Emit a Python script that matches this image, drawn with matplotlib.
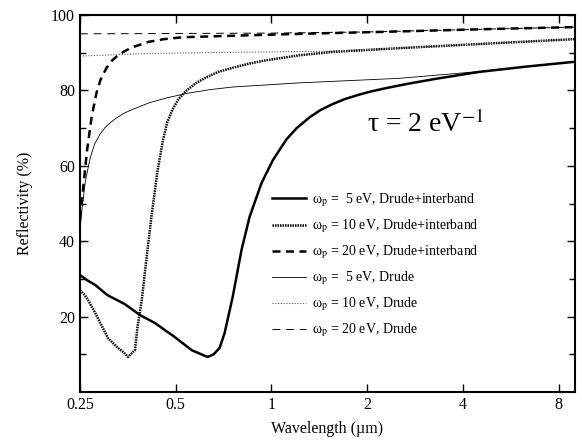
import matplotlib
matplotlib.use('Agg')
import matplotlib.pyplot as plt
from matplotlib.ticker import FixedLocator, NullLocator

plt.rcParams['font.family'] = ['Liberation Serif', 'DejaVu Serif']
plt.rcParams['mathtext.fontset'] = 'stix'

# wavelength (um) and reflectivity (%)
# wp = 5 eV, Drude+interband
lam_5i = [0.25, 0.265, 0.279, 0.305, 0.346, 0.386, 0.430, 0.496, 0.561, 0.617,
          0.630, 0.658, 0.687, 0.712, 0.755, 0.805, 0.853, 0.93, 1.01, 1.114,
          1.2, 1.32, 1.42, 1.55, 1.7, 1.89, 2.05, 2.29, 2.7, 3.3, 4.49, 6.3, 9.0]
r_5i = [31.0, 29.5, 28.4, 25.7, 23.3, 20.4, 18.3, 14.6, 11.1, 9.6,
        9.3, 10.0, 11.7, 15.6, 25.2, 37.7, 46.4, 55.4, 61.5, 67.0,
        70.0, 72.9, 74.7, 76.3, 77.7, 78.9, 79.7, 80.6, 81.8, 83.1, 84.9, 86.3, 87.6]

# wp = 10 eV, Drude+interband
lam_10i = [0.25, 0.257, 0.265, 0.279, 0.294, 0.306, 0.329, 0.343, 0.354, 0.364,
           0.372, 0.379, 0.391, 0.405, 0.420, 0.437, 0.455, 0.47, 0.489, 0.51,
           0.541, 0.58, 0.625, 0.68, 0.755, 0.85, 0.963, 1.22, 1.55, 2.52, 4.49, 9.0]
r_10i = [27.0, 26.0, 24.4, 21.0, 17.2, 14.3, 11.7, 10.5, 9.3, 10.3,
         11.1, 17.2, 24.4, 35.8, 47.0, 58.0, 66.5, 71.5, 75.0, 77.7,
         80.0, 82.0, 83.5, 84.9, 86.0, 87.1, 88.0, 89.3, 90.2, 91.2, 92.3, 93.6]

# wp = 20 eV, Drude+interband
lam_20i = [0.25, 0.2555, 0.263, 0.272, 0.282, 0.29, 0.303, 0.315, 0.327, 0.345,
           0.367, 0.412, 0.46, 0.526, 0.755, 1.224, 2.18, 4.49, 9.0]
r_20i = [46.0, 53.6, 64.0, 73.0, 79.5, 82.8, 86.0, 87.9, 89.1, 90.4,
         91.5, 92.9, 93.6, 94.1, 94.5, 95.0, 95.5, 96.2, 96.8]

# wp = 5 eV, Drude
lam_5d = [0.25, 0.254, 0.26, 0.269, 0.278, 0.289, 0.30, 0.313, 0.327, 0.345,
          0.367, 0.412, 0.468, 0.541, 0.64, 0.755, 1.224, 2.52, 4.49, 9.0]
r_5d = [43.0, 49.0, 56.0, 62.0, 65.8, 68.4, 70.2, 71.6, 72.8, 74.0,
        75.0, 76.7, 78.0, 79.2, 80.2, 80.9, 82.0, 83.2, 85.0, 87.6]

# wp = 10 eV, Drude
lam_10d = [0.25, 0.41, 0.755, 1.22, 1.55, 2.52, 4.49, 9.0]
r_10d = [89.1, 89.8, 90.1, 90.3, 90.4, 91.2, 92.3, 93.6]

# wp = 20 eV, Drude
lam_20d = [0.25, 1.0, 2.0, 4.49, 9.0]
r_20d = [95.0, 95.2, 95.5, 96.2, 96.8]

xticks = [0.25, 0.5, 1, 2, 4, 8]
xticklabels = ['0.25', '0.5', '1', '2', '4', '8']

fig = plt.figure(figsize=(5.82, 4.45), dpi=100)
ax = fig.add_axes([80 / 582, 1 - 392 / 445, 495 / 582, 377 / 445])

ax.plot(lam_5i, r_5i, color='black', lw=1.8, ls='-',
        label='\u03c9$_{\\rm p}$ =  5 eV, Drude+interband')
ax.plot(lam_10i, r_10i, color='black', lw=1.8, ls=(0, (0.6, 0.4)),
        label='\u03c9$_{\\rm p}$ = 10 eV, Drude+interband')
ax.plot(lam_20i, r_20i, color='black', lw=1.8, ls=(0, (3.2, 2.2)),
        label='\u03c9$_{\\rm p}$ = 20 eV, Drude+interband')
ax.plot(lam_5d, r_5d, color='black', lw=0.6, ls='-',
        label='\u03c9$_{\\rm p}$ =  5 eV, Drude')
ax.plot(lam_10d, r_10d, color='#555555', lw=0.8, ls=(0, (1, 1.5)),
        label='\u03c9$_{\\rm p}$ = 10 eV, Drude')
ax.plot(lam_20d, r_20d, color='black', lw=0.7, ls=(0, (8, 6)),
        label='\u03c9$_{\\rm p}$ = 20 eV, Drude')

ax.set_xscale('log')
ax.set_xlim(0.25, 9.0)
ax.set_ylim(0, 100)
ax.xaxis.set_major_locator(FixedLocator(xticks))
ax.xaxis.set_minor_locator(NullLocator())
ax.set_xticklabels(xticklabels)
ax.yaxis.set_major_locator(FixedLocator([20, 40, 60, 80, 100]))
ax.yaxis.set_minor_locator(FixedLocator([10, 30, 50, 70, 90]))
ax.tick_params(which='both', direction='in', top=True, right=True, labelsize=11.5)
ax.tick_params(which='major', length=6, width=1)
ax.tick_params(which='minor', length=4, width=1)
for s in ax.spines.values():
    s.set_linewidth(1.5)

ax.set_xlabel('Wavelength (\u00b5m)', fontsize=11.5, labelpad=6)
ax.set_ylabel('Reflectivity (%)', fontsize=11.5, labelpad=13)

ax.text(0.58, 0.71, '\u03c4 = 2 eV$^{\\mathrm{{-}1}}$', transform=ax.transAxes,
        fontsize=20, ha='left', va='center')

ax.legend(loc='upper left', bbox_to_anchor=(0.388, 0.532), frameon=False,
          fontsize=10, handlelength=2.45, handletextpad=0.45,
          labelspacing=0.6, borderpad=0, borderaxespad=0)

plt.savefig('out.png', dpi=100)
